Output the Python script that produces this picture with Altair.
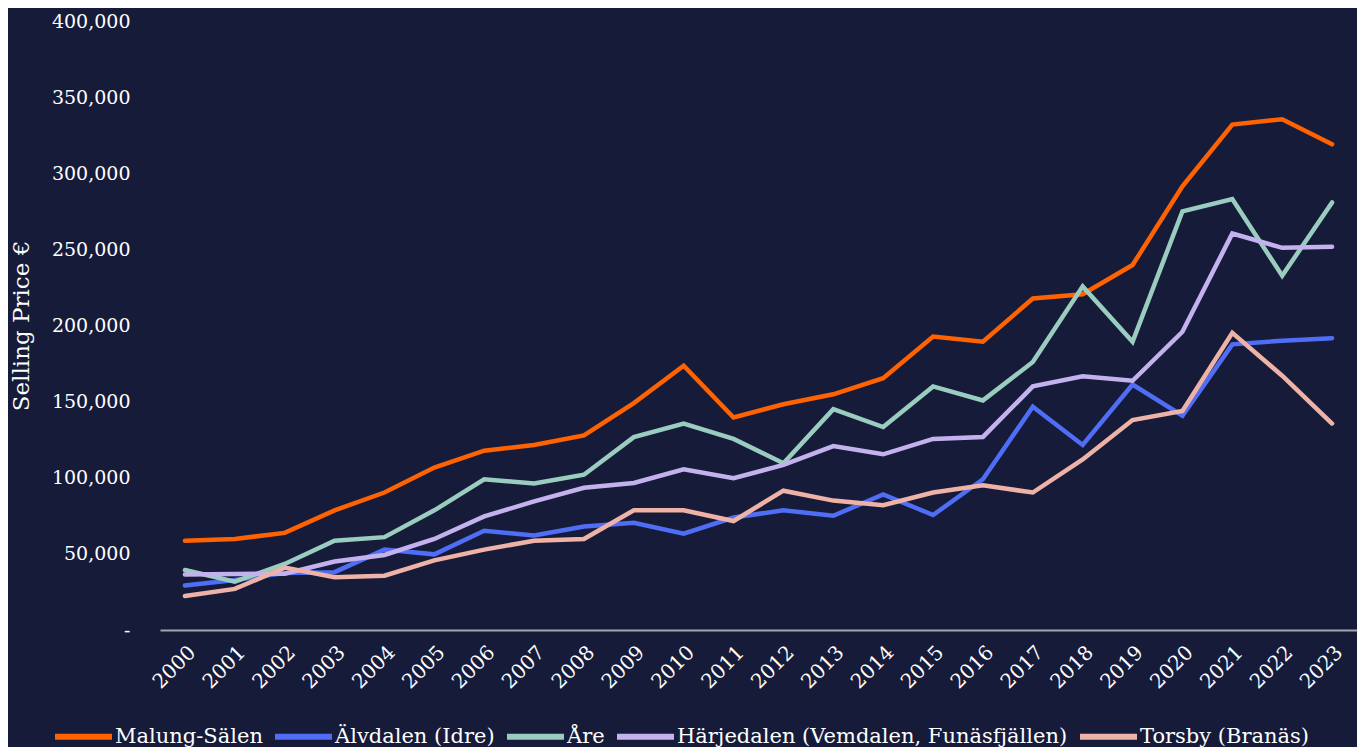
import altair as alt
import pandas as pd

years = [str(y) for y in range(2000, 2024)]

series_names = [
    "Malung-Sälen",
    "Älvdalen (Idre)",
    "Åre",
    "Härjedalen (Vemdalen, Funäsfjällen)",
    "Torsby (Branäs)",
]
series_colors = ["#FF6200", "#4F6EF5", "#9ACDBF", "#C4B2EE", "#EEB3A6"]

malung = [58600, 59800, 63800, 78600, 90300, 106700, 117800, 121500, 127800, 149000,
          173600, 139600, 148300, 154800, 165400, 192800, 189400, 217700, 220500, 239700,
          291400, 332000, 335500, 319000]
alvdalen = [29300, 32800, 37500, 38000, 52800, 49700, 65200, 62100, 68000, 70400,
            63300, 73900, 78600, 75000, 89100, 75500, 99000, 146600, 121500, 161200,
            140800, 187600, 190000, 191700]
are = [39400, 31700, 43400, 58600, 61000, 78600, 99000, 96200, 102000, 126700,
       135600, 125500, 109500, 145000, 133300, 160000, 150800, 176000, 225700, 189300,
       275000, 283000, 232700, 280800]
harjedalen = [36400, 36800, 37000, 45000, 49300, 59800, 74600, 84500, 93400, 96600,
              105600, 99700, 108400, 120800, 115400, 125500, 126800, 160000, 166600, 163700,
              195900, 260400, 251000, 251700]
torsby = [22300, 27000, 41000, 34700, 35700, 45700, 52800, 58600, 59800, 78600,
          78600, 71600, 91500, 85000, 82000, 90300, 95000, 90300, 112000, 137900,
          143800, 195200, 167000, 135600]

values = [malung, alvdalen, are, harjedalen, torsby]
rows = []
for i, (name, vals) in enumerate(zip(series_names, values)):
    for y, v in zip(years, vals):
        rows.append({"Year": y, "Price": v, "Region": name, "order": i})
df = pd.DataFrame(rows)

FONT = "DejaVu Serif"
BG = "#161B3A"

chart = alt.Chart(df).mark_line(strokeWidth=4.5, strokeCap="round").encode(
    x=alt.X("Year:O", scale=alt.Scale(type="point", padding=0.5),
            axis=alt.Axis(title=None, labelAngle=-45, ticks=False, domainColor="#A6A6A6",
                          domainWidth=2, labelPadding=12, labelFontSize=20, grid=False)),
    y=alt.Y("Price:Q", scale=alt.Scale(domain=[0, 400000], nice=False),
            axis=alt.Axis(title="Selling Price €", values=list(range(0, 400001, 50000)),
                          labelExpr="datum.value == 0 ? '-' : format(datum.value, ',')",
                          domain=False, ticks=False, grid=False, labelPadding=30,
                          titlePadding=18, titleFontSize=23)),
    color=alt.Color("Region:N", scale=alt.Scale(domain=series_names, range=series_colors),
                    legend=alt.Legend(title=None, orient="none", direction="horizontal",
                                      legendX=-108, legendY=684, symbolType="stroke",
                                      symbolSize=3249, symbolStrokeWidth=6,
                                      labelOffset=0, columnPadding=0, padding=0)),
    order=alt.Order("order:Q"),
).properties(
    width=1197, height=609, background=BG,
    padding={"left": 152, "top": 13, "right": 0, "bottom": 117},
    autosize=alt.AutoSizeParams(type="none"),
).configure_view(strokeWidth=0).configure_axis(
    labelFont=FONT, labelFontSize=19, labelColor="#FFFFFF",
    titleFont=FONT, titleFontSize=19, titleColor="#FFFFFF", titleFontWeight="normal",
).configure_legend(
    labelFont=FONT, labelFontSize=21, labelColor="#FFFFFF", labelLimit=0,
)

chart.save("out.html", embed_options={"renderer": "svg", "actions": False})
